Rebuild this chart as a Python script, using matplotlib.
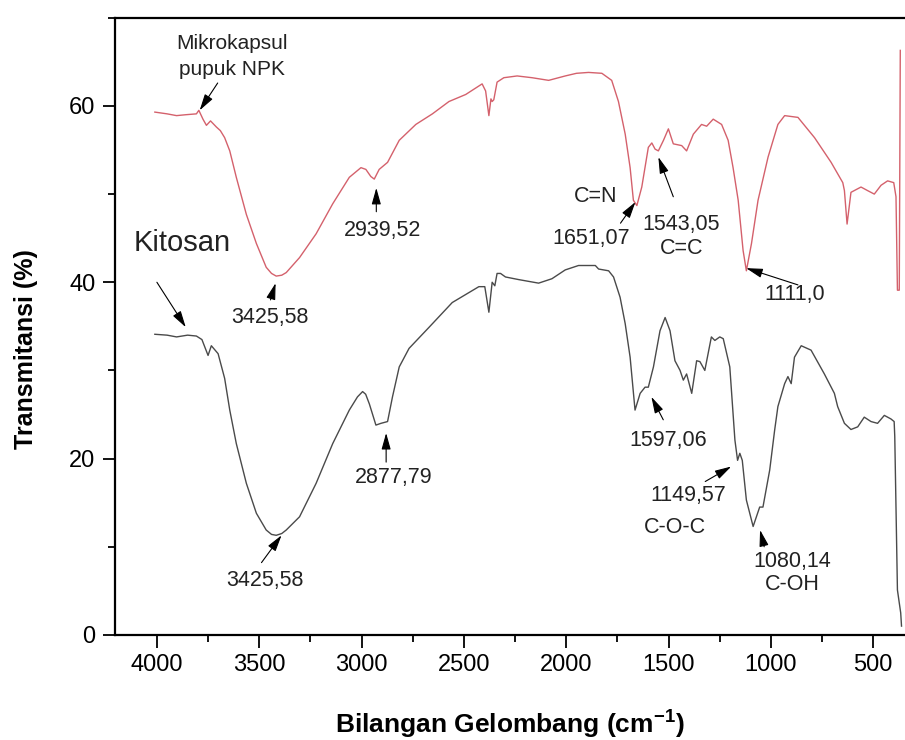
# FTIR spectra of the NPK microcapsule and chitosan
import matplotlib.pyplot as plt
from matplotlib.ticker import MultipleLocator

# Mikrokapsul pupuk NPK (upper, red trace)
wn_npk = [4010, 3950, 3904, 3860, 3807, 3795, 3775, 3758, 3738, 3709, 3690, 3669, 3644,
          3612, 3563, 3514, 3466, 3440, 3417, 3390, 3368, 3303, 3222, 3141, 3060, 3003,
          2979, 2955, 2938, 2925, 2914, 2873, 2816, 2735, 2654, 2573, 2491, 2411, 2394,
          2378, 2368, 2362, 2354, 2338, 2305, 2240, 2167, 2086, 2005, 1950, 1891, 1826,
          1778, 1745, 1712, 1688, 1672, 1655, 1631, 1599, 1582, 1566, 1550, 1525, 1501,
          1477, 1436, 1412, 1379, 1339, 1314, 1282, 1241, 1209, 1185, 1160, 1136, 1120,
          1095, 1063, 1014, 966, 933, 868, 787, 706, 649, 641, 628, 609, 560, 528, 495,
          462, 430, 400, 389, 382, 373, 368]
t_npk = [59.3, 59.1, 58.9, 59.0, 59.1, 59.5, 58.5, 57.8, 58.3, 57.6, 57.2, 56.4, 54.9,
         51.9, 47.7, 44.4, 41.7, 41.0, 40.7, 40.8, 41.1, 42.8, 45.5, 48.9, 51.9, 53.0,
         52.8, 52.0, 51.7, 52.3, 52.8, 53.6, 56.1, 57.9, 59.1, 60.5, 61.3, 62.5, 61.7,
         58.9, 60.8, 60.5, 60.7, 62.7, 63.2, 63.4, 63.2, 62.9, 63.4, 63.7, 63.8, 63.7,
         62.9, 60.5, 56.8, 53.0, 49.3, 48.7, 50.8, 55.3, 55.8, 55.1, 54.9, 56.1, 57.4,
         55.7, 55.5, 54.9, 56.8, 57.9, 57.7, 58.5, 57.9, 56.1, 53.0, 49.3, 43.6, 41.3,
         44.4, 49.3, 54.2, 57.9, 58.9, 58.7, 56.4, 53.6, 51.3, 50.4, 46.6, 50.2, 50.8, 50.4, 50.0,
         51.0, 51.5, 51.3, 49.7, 39.1, 39.1, 66.3]

# Kitosan (lower, black trace)
wn_kit = [4010, 3950, 3904, 3850, 3807, 3780, 3750, 3734, 3701, 3669, 3644, 3612, 3563,
          3514, 3466, 3440, 3417, 3390, 3368, 3303, 3222, 3141, 3060, 3020, 2995, 2980,
          2962, 2930, 2905, 2873, 2849, 2816, 2768, 2670, 2557, 2427, 2398, 2378, 2362,
          2349, 2338, 2321, 2297, 2232, 2135, 2070, 2005, 1940, 1858, 1842, 1793, 1769,
          1737, 1712, 1688, 1664, 1639, 1615, 1599, 1574, 1542, 1517, 1493, 1469, 1444,
          1428, 1412, 1387, 1363, 1347, 1323, 1291, 1274, 1250, 1233, 1201, 1176, 1163,
          1152, 1140, 1120, 1087, 1071, 1055, 1039, 1006, 982, 966, 933, 917, 901, 885,
          852, 804, 739, 690, 674, 641, 609, 576, 544, 511, 479, 446, 414, 398, 395, 382,
          366, 362]
t_kit = [34.1, 34.0, 33.8, 34.0, 33.9, 33.5, 31.7, 32.8, 31.9, 29.1, 25.5, 21.7, 17.2,
         13.8, 11.9, 11.4, 11.3, 11.5, 11.9, 13.4, 17.2, 21.7, 25.5, 27.0, 27.6, 27.3,
         26.2, 23.8, 24.0, 24.2, 27.0, 30.4, 32.5, 34.9, 37.7, 39.5, 39.5, 36.6, 40.0,
         39.6, 41.0, 41.0, 40.6, 40.3, 39.9, 40.4, 41.4, 41.9, 41.9, 41.5, 41.3, 40.6,
         38.3, 35.3, 31.5, 25.5, 27.4, 28.1, 28.1, 30.4, 34.5, 36.0, 34.5, 31.1, 30.0,
         28.9, 29.6, 27.4, 31.1, 31.0, 30.0, 33.8, 33.4, 33.8, 33.6, 30.4, 22.1, 19.8,
         20.6, 19.8, 15.3, 12.3, 13.4, 14.5, 14.5, 18.7, 23.2, 25.9, 28.5, 29.3, 28.5, 31.5,
         32.8, 32.3, 29.6, 27.4, 25.9, 24.0, 23.3, 23.6, 24.7, 24.2, 24.0, 24.9, 24.5, 24.2, 22.5, 5.1,
         2.5, 1.0]

# peak labels: text, text position, arrow tail, arrow tip (data coords)
peaks = [
    ("Mikrokapsul\npupuk NPK", (3635, 65.6), (3703, 62.6), (3791, 59.5)),
    ("2939,52", (2899, 45.9), (2928, 48.0), (2928, 50.7)),
    ("3425,58", (3450, 36.0), (3445, 38.0), (3420, 39.9)),
    ("3425,58", (3474, 6.2), (3489, 8.2), (3391, 11.3)),
    ("2877,79", (2841, 17.9), (2880, 19.6), (2880, 22.9)),
    ("C=N", (1857, 49.7), None, None),
    ("1651,07", (1876, 45.0), (1735, 46.7), (1662, 49.1)),
    ("1543,05\nC=C", (1438, 45.2), (1477, 49.7), (1550, 54.2)),
    ("1111,0", (883, 38.6), (868, 39.7), (1121, 41.6)),
    ("1597,06", (1501, 22.1), (1526, 24.4), (1584, 27.0)),
    ("1149,57", (1404, 15.8), (1321, 17.4), (1194, 19.1)),
    ("C-O-C", (1467, 12.2), None, None),
    ("1080,14\nC-OH", (897, 7.0), (1033, 10.0), (1053, 11.9)),
]

plt.rcParams['font.family'] = ['Liberation Sans', 'DejaVu Sans']

fig = plt.figure(figsize=(9.05, 7.40), dpi=100)
ax = fig.add_axes([0.127, 0.142, 0.873, 0.834])

ax.plot(wn_npk, t_npk, color='#d4616c', lw=1.0)
ax.plot(wn_kit, t_kit, color='#4a4a4a', lw=1.0)

for txt, pos, tail, tip in peaks:
    if txt.startswith("Mikro"):
        ax.text(pos[0], pos[1], txt, ha='center', va='center', fontsize=15,
                color='#222222', linespacing=1.45)
    else:
        ax.text(pos[0], pos[1], txt, ha='center', va='center', fontsize=15.5,
                color='#222222', linespacing=1.15)
    if tail is not None:
        ax.annotate('', xy=tip, xytext=tail,
                    arrowprops=dict(arrowstyle='-|>,head_length=0.5,head_width=0.14',
                                    mutation_scale=20, color='black', lw=0.8,
                                    shrinkA=0, shrinkB=0))

# Kitosan label with its arrow
ax.text(3878, 44.5, "Kitosan", ha='center', va='center', fontsize=21, color='#222222')
ax.annotate('', xy=(3859, 34.9), xytext=(4000, 40.0),
            arrowprops=dict(arrowstyle='-|>,head_length=0.5,head_width=0.14',
                            mutation_scale=20, color='black', lw=0.8,
                            shrinkA=0, shrinkB=0))

ax.set_xlim(4205, 345)
ax.set_ylim(0, 70)
ax.xaxis.set_major_locator(MultipleLocator(500))
ax.xaxis.set_minor_locator(MultipleLocator(250))
ax.yaxis.set_major_locator(MultipleLocator(20))
ax.yaxis.set_minor_locator(MultipleLocator(10))
ax.tick_params(which='major', direction='out', length=9, width=1.3, labelsize=17, pad=5)
ax.tick_params(which='minor', direction='out', length=5, width=1.3)
ax.spines['right'].set_visible(False)
for s in ['left', 'bottom', 'top']:
    ax.spines[s].set_linewidth(1.6)

ax.set_xlabel("Bilangan Gelombang (cm$^{\\mathregular{-1}}$)", fontsize=19, fontweight='bold', labelpad=22)
ax.set_ylabel("Transmitansi (%)", fontsize=18, fontweight='bold')
ax.yaxis.set_label_coords(-0.098, 0.463)

fig.savefig('out.png', dpi=100)
